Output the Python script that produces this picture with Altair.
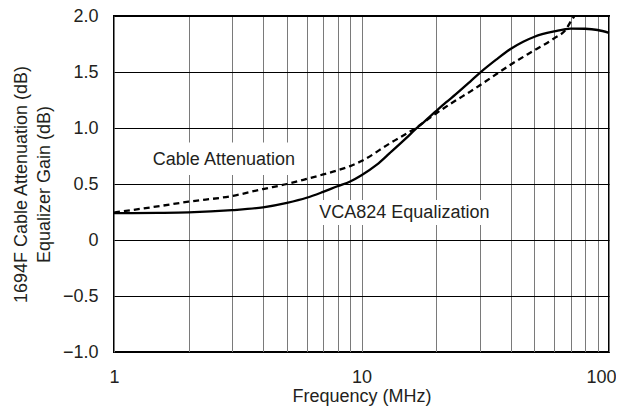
import altair as alt
import pandas as pd

# VCA824 equalization (solid)
eq_freq = [1, 1.5, 2, 3, 4, 5, 6, 7, 8, 9, 10, 11.5, 13, 15, 16.7, 18, 20, 22, 24,
           27.5, 30, 35, 40, 45, 50, 60, 70, 80, 90, 100]
eq_gain = [0.24, 0.242, 0.246, 0.266, 0.292, 0.332, 0.377, 0.43, 0.48, 0.522, 0.578,
           0.67, 0.775, 0.9, 0.998, 1.06, 1.15, 1.23, 1.3, 1.415, 1.49, 1.61, 1.705,
           1.77, 1.815, 1.862, 1.888, 1.886, 1.875, 1.85]

# 1694F cable attenuation (dashed)
cable_freq = [1, 1.5, 2, 3, 4, 5, 6, 7, 8, 9, 10, 13, 16.7, 20, 24, 27.5, 30, 40, 50,
              60, 67.5, 70, 72.5]
cable_att = [0.245, 0.3, 0.342, 0.393, 0.455, 0.5, 0.545, 0.585, 0.622, 0.66, 0.705,
             0.862, 1.005, 1.13, 1.245, 1.325, 1.38, 1.565, 1.695, 1.8, 1.89, 1.95, 2.0]

x_grid = [1, 2, 3, 4, 5, 6, 7, 8, 9, 10, 20, 30, 40, 50, 60, 70, 80, 90, 100]
y_ticks = [-1.0, -0.5, 0, 0.5, 1.0, 1.5, 2.0]

label_text = ["Cable Attenuation", "VCA824 Equalization"]
label_freq = [2.78, 14.9]
label_val = [0.714, 0.241]
box_f1 = [1.33, 6.45]
box_f2 = [5.8, 34.6]
box_v1 = [0.58, 0.134]
box_v2 = [0.87, 0.357]

FONT = "Liberation Sans"
TXT = "#231f20"

df_eq = pd.DataFrame({"f": eq_freq, "v": eq_gain})
df_cable = pd.DataFrame({"f": cable_freq, "v": cable_att})
df_lab = pd.DataFrame({"t": label_text, "f": label_freq, "v": label_val,
                       "f1": box_f1, "f2": box_f2, "v1": box_v1, "v2": box_v2})

x_scale = alt.Scale(type="log", domain=[1, 100])
y_scale = alt.Scale(domain=[-1, 2], nice=False, zero=False)

x_axis = alt.Axis(
    values=x_grid,
    labelExpr="(datum.value == 1 || datum.value == 10 || datum.value == 100) ? format(datum.value, 'd') : ''",
    title="Frequency (MHz)",
    grid=True, gridColor="#7a7a7a", gridWidth=1,
    domain=False, ticks=False,
    labelFont=FONT, labelFontSize=18, labelColor=TXT, labelPadding=16,
    labelFlush=False, labelOverlap=False,
    labelOffset={"condition": {"test": "datum.value == 100", "value": -8}, "value": 0},
    titleFont=FONT, titleFontSize=18, titleFontWeight="normal", titleColor=TXT,
    titlePadding=1,
)
y_axis = alt.Axis(
    values=y_ticks,
    labelExpr="datum.value == 0 ? '0' : replace(format(datum.value, '.1f'), '-', '\u2212')",
    title=["1694F Cable Attenuation (dB)", "Equalizer Gain (dB)"],
    grid=True, gridColor="#000000", gridWidth=1,
    domain=False, ticks=False,
    labelFont=FONT, labelFontSize=18, labelColor=TXT, labelPadding=16,
    labelFlush=False, labelOverlap=False,
    titleFont=FONT, titleFontSize=18, titleFontWeight="normal", titleColor=TXT,
    titlePadding=9, titleLineHeight=23,
)

boxes = alt.Chart(df_lab).mark_rect(fill="white").encode(
    x=alt.X("f1:Q", scale=x_scale, axis=x_axis),
    x2="f2:Q",
    y=alt.Y("v1:Q", scale=y_scale, axis=y_axis),
    y2="v2:Q",
)

eq_line = alt.Chart(df_eq).mark_line(
    color="black", strokeWidth=2.3, interpolate="monotone"
).encode(
    x=alt.X("f:Q", scale=x_scale, axis=x_axis),
    y=alt.Y("v:Q", scale=y_scale, axis=y_axis),
)

cable_line = alt.Chart(df_cable).mark_line(
    color="black", strokeWidth=2.3, strokeDash=[6, 4], interpolate="monotone"
).encode(
    x=alt.X("f:Q", scale=x_scale, axis=x_axis),
    y=alt.Y("v:Q", scale=y_scale, axis=y_axis),
)

texts = alt.Chart(df_lab).mark_text(
    font=FONT, fontSize=18, color=TXT, align="center", baseline="middle"
).encode(
    x=alt.X("f:Q", scale=x_scale, axis=x_axis),
    y=alt.Y("v:Q", scale=y_scale, axis=y_axis),
    text="t:N",
)

chart = alt.layer(boxes, eq_line, cable_line, texts).properties(
    width=495, height=336,
    autosize=alt.AutoSizeParams(type="none"),
    padding={"left": 106, "top": 8, "right": 7, "bottom": 54},
).configure_view(stroke="black", strokeWidth=2)

chart.save("out.html", embed_options={"renderer": "svg", "actions": False})
